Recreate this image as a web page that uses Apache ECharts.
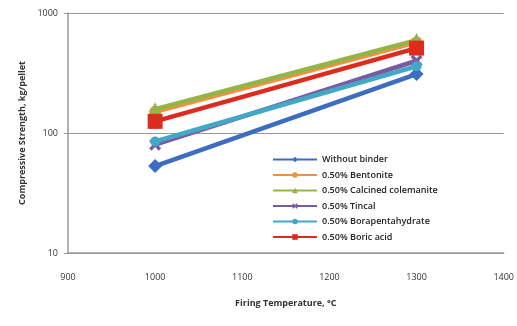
<!DOCTYPE html>
<html><head><meta charset="utf-8">
<script src="https://cdn.jsdelivr.net/npm/echarts@6/dist/echarts.min.js"></script>
<style>html,body{margin:0;padding:0;background:#fff}#c{width:517px;height:326px}</style>
</head><body><div id="c"></div>
<script>
const temperatures = [1000, 1300];
const withoutBinder = [53, 310];
const bentonite = [150, 570];
const calcinedColemanite = [158, 595];
const tincal = [80, 400];
const borapentahydrate = [85, 360];
const boricAcid = [125, 510];
const seriesNames = ['Without binder', '0.50% Bentonite', '0.50% Calcined colemanite', '0.50% Tincal', '0.50% Borapentahydrate', '0.50% Boric acid'];
const xTicks = [900, 1000, 1100, 1200, 1300, 1400];
const yTicks = [10, 100, 1000];

const xShape = 'path://M0,2L2,0L5,3L8,0L10,2L7,5L10,8L8,10L5,7L2,10L0,8L3,5Z';
const colors = ['#3d6cc0', '#f2913d', '#93b548', '#7a5aa0', '#42a8c7', '#dd2b1f'];
const symbols = ['diamond', 'circle', 'triangle', xShape, 'circle', 'rect'];
const sizes = [14, 12, 14, 12, 10, 15];
const values = [withoutBinder, bentonite, calcinedColemanite, tincal, borapentahydrate, boricAcid];

const series = seriesNames.map((n, i) => ({
  name: n, type: 'line',
  data: temperatures.map((t, j) => [t, values[i][j]]),
  symbol: symbols[i], symbolSize: sizes[i],
  lineStyle: {color: colors[i], width: 4.5},
  itemStyle: {color: colors[i]},
  z: 2 + i
}));

const chart = echarts.init(document.getElementById('c'), null, {renderer: 'canvas'});
chart.setOption({
  animation: false,
  textStyle: {fontFamily: 'Open Sans'},
  grid: {left: 68, right: 12, top: 13, bottom: 73},
  legend: {
    orient: 'vertical', left: 267, top: 150,
    itemWidth: 44, itemHeight: 7, itemGap: 6.5,
    textStyle: {fontSize: 9, color: '#222', fontFamily: 'Open Sans', fontWeight: 600},
    data: seriesNames.map((n, i) => ({name: n, itemStyle: {color: colors[i]}, lineStyle: {width: 2}}))
  },
  xAxis: {
    type: 'value', min: 900, max: 1400, interval: 100,
    axisLine: {lineStyle: {color: '#999', width: 1.5}},
    axisTick: {show: false},
    axisLabel: {fontSize: 9, color: '#333', margin: 20, formatter: v => xTicks.includes(v) ? String(v) : ''},
    splitLine: {show: false},
    name: 'Firing Temperature, °C', nameLocation: 'middle', nameGap: 46,
    nameTextStyle: {fontSize: 9, fontWeight: 'bold', color: '#333'}
  },
  yAxis: {
    type: 'log', logBase: 10, min: 10, max: 1000,
    axisLine: {show: true, lineStyle: {color: '#999', width: 1.5}},
    axisTick: {show: true, length: 4, inside: false, lineStyle: {color: '#999'}},
    axisLabel: {fontSize: 9, color: '#333', margin: 10, formatter: v => String(Math.round(v))},
    minorTick: {show: false},
    splitLine: {show: true, lineStyle: {color: '#999', width: 1.2}},
    name: 'Compressive Strength, kg/pellet', nameLocation: 'middle', nameGap: 38, nameRotate: 90,
    nameTextStyle: {fontSize: 9, fontWeight: 'bold', color: '#333'}
  },
  series: series
});
</script></body></html>
